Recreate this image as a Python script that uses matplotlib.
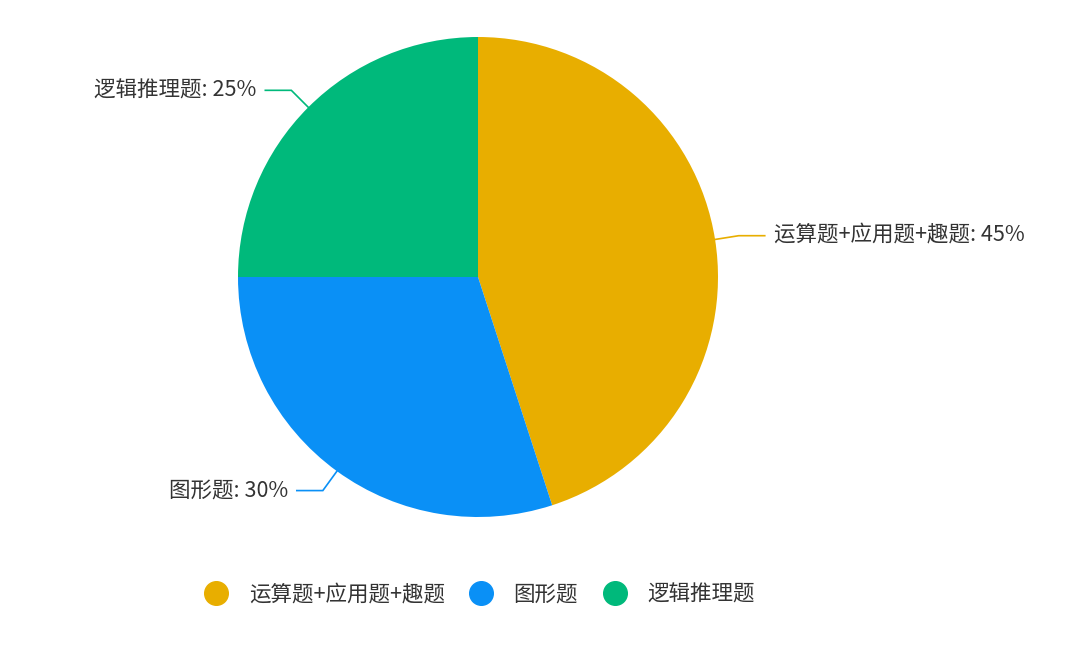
import numpy as np
import matplotlib
matplotlib.use("Agg")
import matplotlib.pyplot as plt
from matplotlib.lines import Line2D

plt.rcParams['font.family'] = ['Noto Sans CJK SC', 'DejaVu Sans']

categories = ["运算题+应用题+趣题", "图形题", "逻辑推理题"]
shares = [45, 30, 25]
colors = ["#E8AE00", "#0A90F6", "#00B97B"]

W, H = 1077, 661
FS = 15.5
fig = plt.figure(figsize=(W / 100, H / 100), dpi=100)
ax = fig.add_axes([0, 0, 1, 1])

cx, cy, r = 478, H - 277, 240
wedges, _ = ax.pie(shares, colors=colors, startangle=90, counterclock=False,
                   center=(cx, cy), radius=r, frame=True,
                   wedgeprops=dict(linewidth=0))
ax.set_xlim(0, W)
ax.set_ylim(0, H)
ax.set_aspect("equal")
ax.axis("off")

# leader lines + labels
len1, len2 = 24, 26
for w, name, val, c in zip(wedges, categories, shares, colors):
    ang = np.deg2rad(0.5 * (w.theta1 + w.theta2))
    x0, y0 = cx + r * np.cos(ang), cy + r * np.sin(ang)
    x1, y1 = cx + (r + len1) * np.cos(ang), cy + (r + len1) * np.sin(ang)
    side = 1 if np.cos(ang) >= 0 else -1
    x2 = x1 + side * len2
    ax.plot([x0, x1, x2], [y0, y1, y1], color=c, lw=1.2,
            solid_joinstyle="miter")
    ax.text(x2 + side * 9, y1, f"{name}: {val}%", ha="left" if side > 0 else "right",
            va="center", fontsize=FS, color="#333333")

handles = [Line2D([], [], marker="o", linestyle="", markersize=17,
                  markerfacecolor=c, markeredgecolor=c) for c in colors]
fig.legend(handles, categories, loc="center", bbox_to_anchor=(479 / W, 1 - 595 / H),
           ncol=3, frameon=False, fontsize=FS, handletextpad=0.9,
           columnspacing=1.1, labelcolor="#333333", handlelength=1.2,
           borderpad=0)

fig.savefig("out.png", dpi=100)
